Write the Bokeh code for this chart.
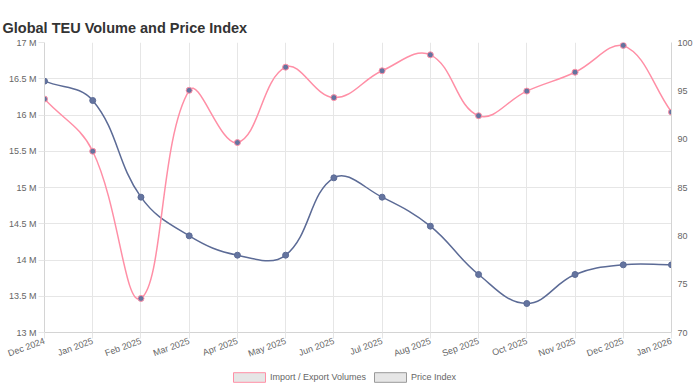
import math
from bokeh.plotting import figure
from bokeh.layouts import column
from bokeh.models import (Range1d, LinearAxis, FixedTicker, Legend, LegendItem,
                          ColumnDataSource, CustomJSTickFormatter)
from bokeh.embed import file_html
from bokeh.resources import INLINE

# ---- data ----
months = ["Dec 2024", "Jan 2025", "Feb 2025", "Mar 2025", "Apr 2025", "May 2025",
          "Jun 2025", "Jul 2025", "Aug 2025", "Sep 2025", "Oct 2025", "Nov 2025",
          "Dec 2025", "Jan 2026"]
volumes = [16_220_000, 15_500_000, 13_470_000, 16_340_000, 15_620_000, 16_660_000,
           16_240_000, 16_610_000, 16_830_000, 15_990_000, 16_330_000, 16_590_000,
           16_960_000, 16_040_000]
price_index = [96, 94, 84, 80, 78, 78, 86, 84, 81, 76, 73, 76, 77, 77]
volume_ticks = [13_000_000, 13_500_000, 14_000_000, 14_500_000, 15_000_000,
                15_500_000, 16_000_000, 16_500_000, 17_000_000]
price_ticks = [70, 75, 80, 85, 90, 95, 100]
series_names = ["Import / Export Volumes", "Price Index"]
chart_title = "Global TEU Volume and Price Index"

PINK = "#ff8fa6"
BLUE = "#5c6b96"
DOT = "#64749f"
GRID = "#e6e6e6"
TXT = "#666666"
FONT = "Liberation Sans"

x = list(range(len(months)))

# frame size in px (for Chart.js-like spline control points)
FW, FH = 627.0, 290.0


def spline_segments(xs, ys, xr, yr, t=0.4):
    sx = FW / (xr[1] - xr[0])
    sy = FH / (yr[1] - yr[0])
    px = [(v - xr[0]) * sx for v in xs]
    py = [(v - yr[0]) * sy for v in ys]
    n = len(px)
    cprev, cnext = [], []
    for i in range(n):
        a = max(i - 1, 0)
        b = min(i + 1, n - 1)
        d01 = math.hypot(px[i] - px[a], py[i] - py[a])
        d12 = math.hypot(px[b] - px[i], py[b] - py[i])
        tot = d01 + d12
        s01 = d01 / tot if tot else 0
        s12 = d12 / tot if tot else 0
        fa, fb = t * s01, t * s12
        dx, dy = px[b] - px[a], py[b] - py[a]
        cprev.append((px[i] - fa * dx, py[i] - fa * dy))
        cnext.append((px[i] + fb * dx, py[i] + fb * dy))

    def back(p):
        cx = min(max(p[0], 0), FW) / sx + xr[0]
        cy = min(max(p[1], 0), FH) / sy + yr[0]
        return cx, cy

    seg = dict(x0=[], y0=[], x1=[], y1=[], cx0=[], cy0=[], cx1=[], cy1=[])
    for i in range(n - 1):
        c0 = back(cnext[i])
        c1 = back(cprev[i + 1])
        seg["x0"].append(xs[i]); seg["y0"].append(ys[i])
        seg["x1"].append(xs[i + 1]); seg["y1"].append(ys[i + 1])
        seg["cx0"].append(c0[0]); seg["cy0"].append(c0[1])
        seg["cx1"].append(c1[0]); seg["cy1"].append(c1[1])
    return seg


# ---- main chart ----
xr = (0, len(months) - 1)
vr = (volume_ticks[0], volume_ticks[-1])
pr = (price_ticks[0], price_ticks[-1])

p = figure(width=700, height=366, output_backend="svg", toolbar_location=None,
           x_range=Range1d(*xr), y_range=Range1d(*vr),
           min_border_left=44, min_border_right=29, min_border_top=42,
           min_border_bottom=34)
p.extra_y_ranges = {"price": Range1d(*pr)}
p.outline_line_color = None
p.background_fill_color = "white"
p.border_fill_color = "white"

p.title.text = chart_title
p.title.text_font = FONT
p.title.text_font_size = "14.5px"
p.title.text_font_style = "bold"
p.title.text_color = "#333333"
p.title.offset = -42
p.title.vertical_align = "top"

xa = p.xaxis[0]
xa.ticker = FixedTicker(ticks=x)
xa.formatter = CustomJSTickFormatter(args=dict(labels=months),
                                     code="return labels[Math.round(tick)] || '';")
xa.major_label_orientation = 0.349
ya = p.yaxis[0]
ya.ticker = FixedTicker(ticks=volume_ticks)
ya.formatter = CustomJSTickFormatter(code="return (tick/1000000).toString() + ' M';")
ra = LinearAxis(y_range_name="price", ticker=FixedTicker(ticks=price_ticks))
p.add_layout(ra, "right")

for ax in (xa, ya, ra):
    ax.axis_line_color = "#d4d4d4"
    ax.major_tick_line_color = GRID
    ax.major_tick_in = 0
    ax.minor_tick_line_color = None
    ax.major_label_text_font = FONT
    ax.major_label_text_font_size = "9px"
    ax.major_label_text_color = TXT
xa.major_tick_out = 6
ya.major_tick_out = 6
ra.major_tick_out = 0
ya.major_label_standoff = 2
xa.major_label_standoff = 2
ra.major_label_standoff = 6

p.xgrid.ticker = FixedTicker(ticks=x)
p.xgrid.grid_line_color = GRID
p.ygrid.grid_line_color = GRID

# price index
ps = spline_segments(x, price_index, xr, pr)
p.bezier(source=ColumnDataSource(ps), x0="x0", y0="y0", x1="x1", y1="y1",
         cx0="cx0", cy0="cy0", cx1="cx1", cy1="cy1",
         line_color=BLUE, line_width=1.5, y_range_name="price")
p.scatter(x, price_index, size=6, fill_color=DOT, line_color=BLUE,
          line_width=1, y_range_name="price")

# import / export volumes
vs = spline_segments(x, volumes, xr, vr)
p.bezier(source=ColumnDataSource(vs), x0="x0", y0="y0", x1="x1", y1="y1",
         cx0="cx0", cy0="cy0", cx1="cx1", cy1="cy1",
         line_color=PINK, line_width=1.5)
p.scatter(x, volumes, size=6, fill_color=DOT, line_color=PINK, line_width=1)

# ---- legend strip ----
bot = figure(width=700, height=18, output_backend="svg", toolbar_location=None,
             x_range=Range1d(0, 1), y_range=Range1d(0, 1),
             x_axis_location=None, y_axis_location=None,
             min_border=0, min_border_left=0, min_border_right=0,
             min_border_top=0, min_border_bottom=0)
bot.grid.visible = False
bot.outline_line_color = None
bot.background_fill_color = "white"
bot.border_fill_color = "white"
# swatch renderers: zero-size and outside the strip's ranges, only used by the legend
lg1 = bot.quad(left=x[:1], right=x[:1], top=volumes[:1], bottom=volumes[:1],
               fill_color="#e6e6e6", line_color=PINK, line_width=1)
lg2 = bot.quad(left=x[:1], right=x[:1], top=price_index[:1], bottom=price_index[:1],
               fill_color="#e6e6e6", line_color="#999999", line_width=1)
legend = Legend(items=[LegendItem(label=series_names[0], renderers=[lg1]),
                       LegendItem(label=series_names[1], renderers=[lg2])],
                orientation="horizontal", location=(185, 1))
legend.glyph_width = 40
legend.glyph_height = 12
legend.label_text_font = FONT
legend.label_text_font_size = "9px"
legend.label_text_color = TXT
legend.label_standoff = 1
legend.label_height = 9
legend.spacing = 4
legend.padding = 0
legend.margin = 0
legend.border_line_color = None
legend.background_fill_alpha = 0
bot.add_layout(legend, "center")

layout = column(p, bot, spacing=0)
open("out.html", "w").write(file_html(layout, INLINE))
